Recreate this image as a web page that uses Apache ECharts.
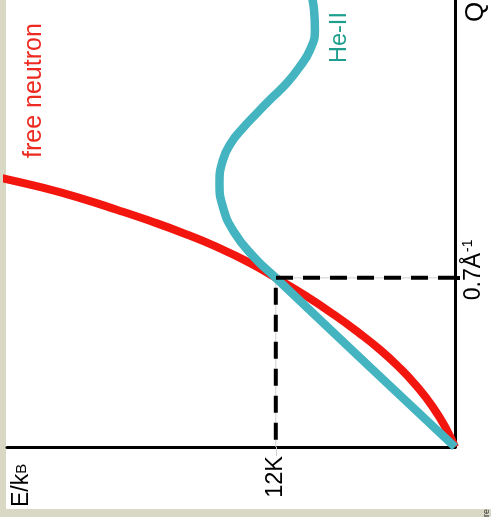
<!DOCTYPE html>
<html>
<head>
<meta charset="utf-8">
<script src="https://cdn.jsdelivr.net/npm/echarts@6/dist/echarts.min.js"></script>
<style>
  html, body { margin: 0; padding: 0; background: #d8d8c4; }
  #chart { width: 491px; height: 517px; }
</style>
</head>
<body>
<div id="chart"></div>
<script>
// Free neutron dispersion: energy E/kB (K) against momentum Q (1/Å)
const neutronE = [0, 0.54, 1.49, 2.64, 3.76, 5.01, 6.43, 8.09, 10.01, 12.0, 13.74, 15.95, 18.23, 20.44, 22.65, 24.93, 27.61, 30.5];
const neutronQ = [0, 0.070, 0.166, 0.257, 0.331, 0.402, 0.472, 0.547, 0.626, 0.700, 0.762, 0.828, 0.886, 0.936, 0.982, 1.027, 1.073, 1.115];

// Superfluid He-II dispersion (phonon, maxon, roton)
const heliumE = [0, 5.7, 12.0, 13.46, 14.80, 15.54, 15.77, 15.54, 15.00, 14.20, 13.26, 12.26, 11.25, 10.45, 9.71, 9.38, 9.44, 9.71];
const heliumQ = [0, 0.331, 0.700, 0.786, 0.890, 0.993, 1.093, 1.188, 1.258, 1.320, 1.382, 1.445, 1.507, 1.569, 1.643, 1.726, 1.809, 1.892];

// Crossing point of the two curves, marked on both axes
const crossE = [12];
const crossQ = [0.7];
const eTickLabels = ['12K'];
const qTickLabels = ['0.7Å{sup|-1}'];

const FONT = '"Liberation Sans", Arial, Helvetica, sans-serif';
const pairs = (xs, ys) => xs.map((x, i) => [x, ys[i]]);
const guidePath = [[0, crossQ[0]], [crossE[0], crossQ[0]], [crossE[0], 0]];

const chart = echarts.init(document.getElementById('chart'), null, { renderer: 'canvas' });

chart.setOption({
  animation: false,
  backgroundColor: '#d8d8c4',
  grid: { left: 7, right: 36, top: 0, bottom: 70, containLabel: false },
  xAxis: {
    type: 'value',
    inverse: true,
    min: 0,
    max: 30,
    position: 'bottom',
    axisLine: { onZero: false, lineStyle: { color: '#000', width: 3 } },
    splitLine: { show: false },
    axisTick: {
      customValues: crossE,
      length: 9,
      lineStyle: { color: '#cfcfcf', width: 1 }
    },
    axisLabel: {
      customValues: crossE,
      formatter: (v) => eTickLabels[crossE.indexOf(v)] || '',
      rotate: 90,
      margin: 9,
      fontSize: 23.5,
      fontFamily: FONT,
      color: '#000'
    }
  },
  yAxis: {
    type: 'value',
    min: 0,
    max: 1.85,
    position: 'right',
    axisLine: { onZero: false, lineStyle: { color: '#000', width: 3 } },
    splitLine: { show: false },
    axisTick: {
      customValues: crossQ,
      length: 5,
      lineStyle: { color: '#000', width: 4 }
    },
    axisLabel: {
      customValues: crossQ,
      formatter: (v) => qTickLabels[crossQ.indexOf(v)] || '',
      rotate: 90,
      margin: 6,
      padding: [0, 0, 0, 16],
      fontSize: 23,
      fontFamily: FONT,
      color: '#000',
      rich: {
        sup: { fontSize: 14, fontFamily: FONT, color: '#000', padding: [0, 0, 12, 1] }
      }
    }
  },
  series: [
    {
      // thin guide under the dashed markers
      type: 'line',
      data: guidePath,
      symbol: 'none',
      silent: true,
      z: 1,
      lineStyle: { color: '#cfcfcf', width: 1 }
    },
    {
      name: 'free neutron',
      type: 'line',
      data: pairs(neutronE, neutronQ),
      smooth: 0.5,
      symbol: 'none',
      z: 2,
      lineStyle: { color: '#f2160f', width: 8, cap: 'butt' }
    },
    {
      name: 'He-II',
      type: 'line',
      data: pairs(heliumE, heliumQ),
      smooth: 0.5,
      symbol: 'none',
      z: 3,
      lineStyle: { color: '#43b4c0', width: 8.5, cap: 'butt' }
    },
    {
      type: 'line',
      data: guidePath,
      symbol: 'none',
      silent: true,
      z: 4,
      lineStyle: { color: '#000', width: 4, type: [17, 10], cap: 'butt', join: 'miter' }
    }
  ],
  graphic: [
    {
      type: 'rect',
      z: -1,
      silent: true,
      shape: { x: 6, y: 0, width: 485, height: 509 },
      style: { fill: '#ffffff' }
    },
    {
      type: 'text',
      x: 22, y: 507, rotation: Math.PI / 2, z: 10,
      style: {
        text: '{m|E/k}{s|B}',
        align: 'left', verticalAlign: 'middle',
        rich: {
          m: { fontSize: 23, fontFamily: FONT, fill: '#000' },
          s: { fontSize: 15, fontFamily: FONT, fill: '#000' }
        }
      }
    },
    {
      type: 'text',
      x: 476, y: 22, rotation: Math.PI / 2, z: 10,
      style: { text: 'Q', fontSize: 26, fontFamily: FONT, fill: '#000', align: 'left', verticalAlign: 'middle' }
    },
    {
      type: 'text',
      x: 34, y: 158, rotation: Math.PI / 2, z: 10,
      style: { text: 'free neutron', fontSize: 25, fontFamily: FONT, fill: '#ec2a22', align: 'left', verticalAlign: 'middle' }
    },
    {
      type: 'text',
      x: 340, y: 63, rotation: Math.PI / 2, z: 10,
      style: { text: 'He-II', fontSize: 23.5, fontFamily: FONT, fill: '#1f9e8e', align: 'left', verticalAlign: 'middle' }
    },
    {
      type: 'text',
      x: 487, y: 517, rotation: Math.PI / 2, z: 10,
      style: { text: 're', fontSize: 9, fontFamily: FONT, fill: '#333', align: 'left', verticalAlign: 'middle' }
    }
  ]
});
</script>
</body>
</html>
